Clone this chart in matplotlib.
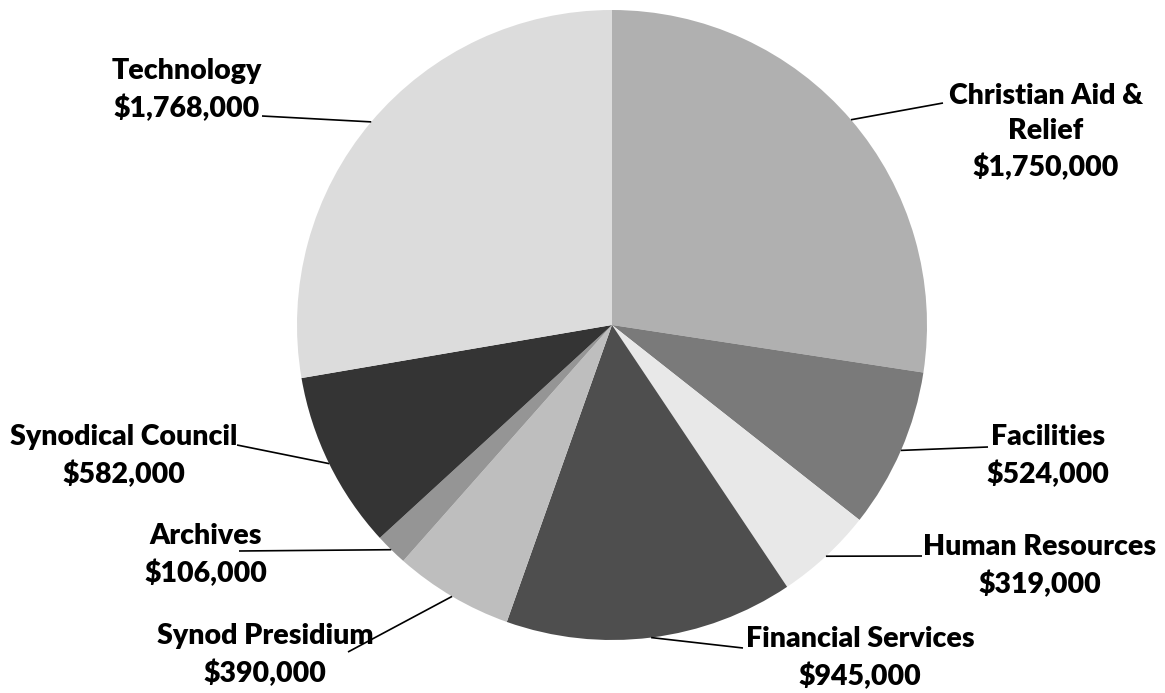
import numpy as np
import matplotlib.pyplot as plt

# - Budget categories (clockwise from 12 o'clock)
categories = ['Christian Aid &\nRelief', 'Facilities', 'Human Resources',
              'Financial Services', 'Synod Presidium', 'Archives',
              'Synodical Council', 'Technology']
amounts = [1750000, 524000, 319000, 945000, 390000, 106000, 582000, 1768000]
greys = ['#b0b0b0', '#7a7a7a', '#e8e8e8', '#4e4e4e',
         '#bebebe', '#959595', '#343434', '#dcdcdc']

# - Canvas in pixel units (y measured from the top)
W, H = 1165, 693
cx, cy, r = 612, H - 325, 315

# - Label block centres and leader-line ends (pixels, y from top)
label_pos = [(1046, 132), (1048, 456), (1040, 566), (860, 658),
             (265, 655), (206, 555), (124, 456), (187, 90)]
leader_end = [(943, 103), (988, 447), (922, 556), (743, 648),
              (348, 652), (239, 551), (237, 445), (262, 116)]

fig = plt.figure(figsize=(W / 100, H / 100), dpi=100)
ax = fig.add_axes([0, 0, 1, 1])
wedges, _ = ax.pie(amounts, colors=greys, startangle=90, counterclock=False,
                   center=(cx, cy), radius=r, frame=True,
                   wedgeprops=dict(linewidth=0))
ax.set_xlim(0, W)
ax.set_ylim(0, H)
ax.set_aspect('equal')
ax.axis('off')

for w, cat, amt, (lx, ly), (ex, ey) in zip(wedges, categories, amounts,
                                           label_pos, leader_end):
    ang = np.deg2rad((w.theta1 + w.theta2) / 2.)
    px = cx + r * np.cos(ang)
    py = cy + r * np.sin(ang)
    ax.plot([px, ex], [py, H - ey], color='black', lw=1.2,
            solid_capstyle='butt')
    ax.text(lx, H - ly, f'{cat}\n${amt:,}', ha='center', va='center',
            fontsize=20.5, fontweight='heavy', family=['Lato', 'DejaVu Sans'],
            linespacing=1.45, color='black')

plt.savefig('out.png', dpi=100)
plt.close()
